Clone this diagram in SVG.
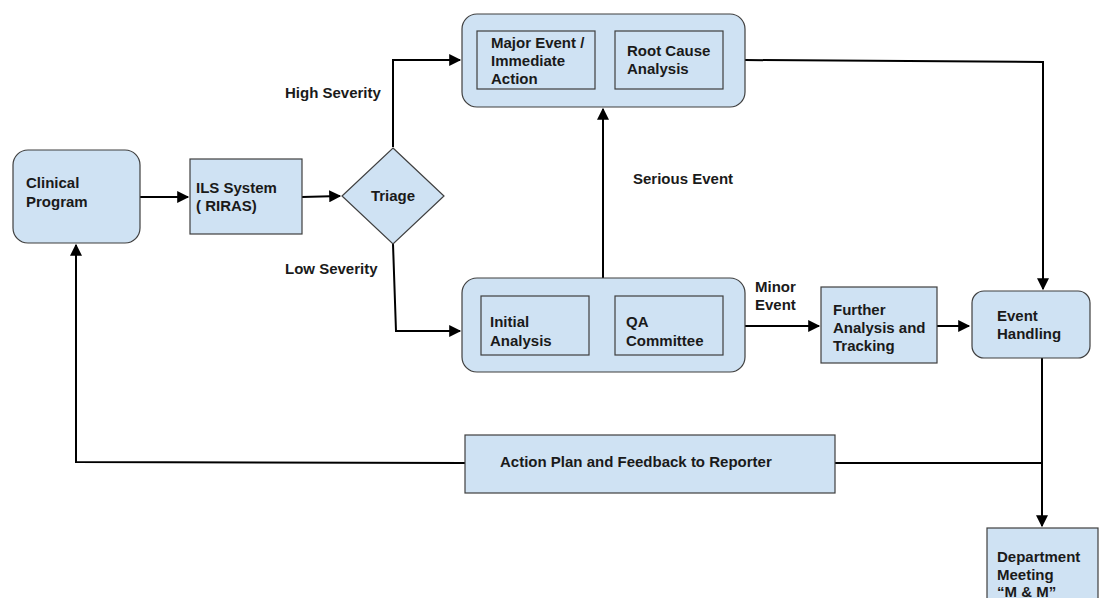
<svg xmlns="http://www.w3.org/2000/svg" width="1099" height="598" viewBox="0 0 1099 598">
<defs>
<marker id="ah" viewBox="0 0 10 10" refX="9" refY="5" markerWidth="6.5" markerHeight="6" orient="auto" markerUnits="strokeWidth"><path d="M0,0 L10,5 L0,10 z" fill="#000"/></marker>
<marker id="ahs" viewBox="0 0 10 10" refX="9" refY="5" markerWidth="7" markerHeight="7" orient="auto" markerUnits="strokeWidth"><path d="M0,1.5 L10,5 L0,8.5 z" fill="#000"/></marker>
</defs>
<style>
.box{fill:#cfe2f3;stroke:#3f3f3f;stroke-width:1.2}
.t{font-family:"Liberation Sans",Arial,sans-serif;font-weight:bold;font-size:15px;fill:#1a1a1a}
.c{fill:none;stroke:#000;stroke-width:2}
.ci{fill:none;stroke:#000;stroke-width:1}
</style>
<rect width="1099" height="598" fill="#fff"/>
<g id="connectors">
<path class="c" d="M140,197 L188,197" marker-end="url(#ah)"/>
<path class="c" d="M302,197 L340,196" marker-end="url(#ah)"/>
<path class="c" d="M393,147 L393,60 L460,60" marker-end="url(#ah)"/>
<path class="c" d="M393,244 L396,331 L460,331" marker-end="url(#ah)"/>
<path class="c" d="M603,278 L603,109" marker-end="url(#ah)"/>
<path class="c" d="M745,326 L819,326" marker-end="url(#ah)"/>
<path class="c" d="M937,326 L969,326" marker-end="url(#ah)"/>
<path class="c" d="M745,60 L1043,62 L1043,289" marker-end="url(#ah)"/>
<path class="c" d="M1042,358 L1042,526" marker-end="url(#ah)"/>
<path class="c" d="M835,463 L1042,463"/>
<path class="c" d="M465,463 L76,462 L76,245" marker-end="url(#ah)"/>
<path class="ci" d="M595,60 L613,60" marker-end="url(#ahs)"/>
<path class="ci" d="M589,325 L613,325" marker-end="url(#ahs)"/>
</g>
<g id="clinical-program">
<rect class="box" x="13" y="150" width="127" height="93" rx="15"/>
<text class="t" x="26" y="188">Clinical</text>
<text class="t" x="26" y="207">Program</text>
</g>
<g id="ils-system">
<rect class="box" x="190" y="159" width="112" height="75"/>
<text class="t" x="196" y="193">ILS System</text>
<text class="t" x="196" y="211">( RIRAS)</text>
</g>
<g id="triage">
<polygon class="box" points="393,148 444,196 393,244 342,196"/>
<text class="t" x="393" y="201" text-anchor="middle">Triage</text>
</g>
<g id="severe-group">
<rect class="box" x="462" y="14" width="283" height="93" rx="15"/>
</g>
<g id="major-event">
<rect class="box" x="477" y="31" width="118" height="58"/>
<text class="t" x="491" y="48">Major Event /</text>
<text class="t" x="491" y="66">Immediate</text>
<text class="t" x="491" y="84">Action</text>
</g>
<g id="root-cause">
<rect class="box" x="615" y="31" width="108" height="58"/>
<text class="t" x="627" y="56">Root Cause</text>
<text class="t" x="627" y="74">Analysis</text>
</g>
<g id="minor-group">
<rect class="box" x="462" y="278" width="283" height="94" rx="15"/>
</g>
<g id="initial-analysis">
<rect class="box" x="481" y="296" width="108" height="59"/>
<text class="t" x="490" y="327">Initial</text>
<text class="t" x="490" y="346">Analysis</text>
</g>
<g id="qa-committee">
<rect class="box" x="615" y="296" width="108" height="59"/>
<text class="t" x="626" y="327">QA</text>
<text class="t" x="626" y="346">Committee</text>
</g>
<g id="further-analysis">
<rect class="box" x="821" y="287" width="116" height="76"/>
<text class="t" x="833" y="315">Further</text>
<text class="t" x="833" y="333">Analysis and</text>
<text class="t" x="833" y="351">Tracking</text>
</g>
<g id="event-handling">
<rect class="box" x="972" y="291" width="118" height="67" rx="12"/>
<text class="t" x="997" y="321">Event</text>
<text class="t" x="997" y="339">Handling</text>
</g>
<g id="action-plan">
<rect class="box" x="465" y="435" width="370" height="58"/>
<text class="t" x="500" y="467">Action Plan and Feedback to Reporter</text>
</g>
<g id="department-meeting">
<rect class="box" x="987" y="528" width="111" height="80"/>
<text class="t" x="997" y="562">Department</text>
<text class="t" x="997" y="580">Meeting</text>
<text class="t" x="997" y="597">“M &amp; M”</text>
</g>
<g id="labels">
<text class="t" x="285" y="98">High Severity</text>
<text class="t" x="285" y="274">Low Severity</text>
<text class="t" x="633" y="184">Serious Event</text>
<text class="t" x="755" y="292">Minor</text>
<text class="t" x="755" y="310">Event</text>
</g>
</svg>
